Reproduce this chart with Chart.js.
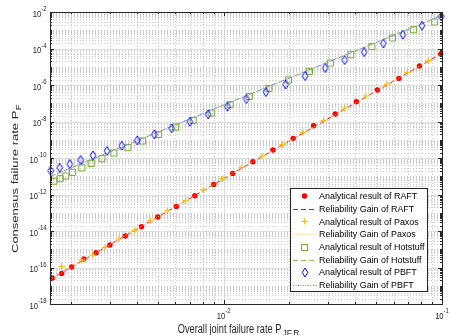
<!DOCTYPE html>
<html>
<head>
<meta charset="utf-8">
<script src="https://cdn.jsdelivr.net/npm/chart.js@4.4.0/dist/chart.umd.min.js"></script>
<style>
  html, body { margin: 0; padding: 0; background: #fff; }
  #wrap { width: 450px; height: 335px; position: relative; }
</style>
</head>
<body>
<div id="wrap"><canvas id="myChart"></canvas></div>
<script>
// values (log-log)
const raftX = [1.64e-3, 1.81e-3, 2.01e-3, 2.28e-3, 2.60e-3, 3.01e-3, 3.54e-3, 4.20e-3, 4.99e-3, 6.06e-3, 7.37e-3, 9.00e-3,
  1.10e-2, 1.36e-2, 1.68e-2, 2.08e-2, 2.58e-2, 3.24e-2, 4.05e-2, 5.06e-2, 6.34e-2, 7.88e-2, 9.86e-2];
const raftY = [2.66e-17, 4.75e-17, 1.06e-16, 2.92e-16, 6.47e-16, 1.71e-15, 5.32e-15, 1.72e-14, 5.85e-14, 2.23e-13, 8.59e-13, 3.57e-12,
  1.43e-11, 6.27e-11, 2.74e-10, 1.19e-9, 5.89e-9, 2.58e-8, 1.22e-7, 5.32e-7, 2.30e-6, 1.10e-5, 5.00e-5];

const paxosX = [1.81e-3, 2.24e-3, 2.51e-3, 2.86e-3, 3.31e-3, 3.91e-3, 4.62e-3, 5.51e-3, 6.68e-3, 8.05e-3, 9.89e-3,
  1.21e-2, 1.50e-2, 1.86e-2, 2.31e-2, 2.87e-2, 3.58e-2, 4.48e-2, 5.59e-2, 6.94e-2, 8.66e-2];
const paxosY = [1.15e-16, 2.51e-16, 4.84e-16, 1.26e-15, 3.65e-15, 1.08e-14, 3.57e-14, 1.29e-13, 4.57e-13, 1.77e-12, 7.35e-12,
  3.05e-11, 1.29e-10, 5.36e-10, 2.53e-9, 1.15e-8, 5.50e-8, 2.49e-7, 1.13e-6, 4.90e-6, 2.15e-5];

const hotstuffX = [1.67e-3, 1.78e-3, 1.89e-3, 2.03e-3, 2.24e-3, 2.47e-3, 2.77e-3, 3.14e-3, 3.64e-3, 4.25e-3, 5.03e-3, 6.02e-3,
  7.25e-3, 8.76e-3, 1.07e-2, 1.31e-2, 1.61e-2, 1.98e-2, 2.47e-2, 3.08e-2, 3.82e-2, 4.77e-2, 5.93e-2, 7.39e-2, 9.26e-2];
const hotstuffY = [5.36e-12, 7.35e-12, 1.03e-11, 1.63e-11, 2.87e-11, 5.06e-11, 9.16e-11, 1.88e-10, 3.67e-10, 8.55e-10, 1.96e-9, 4.88e-9,
  1.15e-8, 2.92e-8, 8.33e-8, 2.37e-7, 6.52e-7, 1.88e-6, 5.56e-6, 1.60e-5, 4.57e-5, 1.30e-4, 3.76e-4, 1.07e-3, 2.83e-3];

const pbftX = [1.61e-3, 1.77e-3, 1.97e-3, 2.21e-3, 2.52e-3, 2.92e-3, 3.41e-3, 4.02e-3, 4.81e-3, 5.77e-3, 6.99e-3, 8.49e-3,
  1.04e-2, 1.27e-2, 1.56e-2, 1.92e-2, 2.36e-2, 2.92e-2, 3.58e-2, 4.40e-2, 5.39e-2, 6.61e-2, 8.10e-2, 9.93e-2];
const pbftY = [2.01e-11, 2.94e-11, 4.69e-11, 7.77e-11, 1.39e-10, 2.42e-10, 4.72e-10, 9.20e-10, 1.96e-9, 4.30e-9, 9.75e-9, 2.45e-8,
  6.47e-8, 1.71e-7, 4.13e-7, 1.08e-6, 3.11e-6, 8.55e-6, 2.34e-5, 6.43e-5, 1.90e-4, 5.70e-4, 1.78e-3, 5.74e-3];

// reliability gain curves (straight in log-log)
const gainX = [1.6e-3, 1e-2, 1e-1];
const raftGainY = [2.23e-17, 7.35e-12, 5.5e-5];
const paxosGainY = [2.23e-17, 7.35e-12, 5.5e-5];
const hotstuffGainY = [9.57e-12, 8.02e-8, 6.52e-3];
const pbftGainY = [9.57e-12, 8.02e-8, 6.52e-3];

const xMin = 1.6e-3, xMax = 1e-1, yMin = 1e-18, yMax = 1e-2;
const xTickExps = [-2, -1];
const yTickExps = [-2, -4, -6, -8, -10, -12, -14, -16, -18];

const legendLabels = [
  "Analytical result of RAFT", "Reliability Gain of RAFT",
  "Analytical result of Paxos", "Reliability Gain of Paxos",
  "Analytical result of Hotstuff", "Reliability Gain of Hotstuff",
  "Analytical result of PBFT", "Reliability Gain of PBFT",
];

const RED = "#ff0000", YEL = "#f2bd1a", GRN = "#77ac30", BLU = "#0000ff";
const FONT = '"Liberation Sans", Arial, Helvetica, sans-serif';

// tall thin diamond like the original 'd' marker
function diamondMarker(color) {
  const c = document.createElement("canvas");
  c.width = 8; c.height = 11;
  const g = c.getContext("2d");
  g.strokeStyle = color; g.lineWidth = 1;
  g.beginPath();
  g.moveTo(4, 1); g.lineTo(6.8, 5.5); g.lineTo(4, 10); g.lineTo(1.2, 5.5); g.closePath();
  g.stroke();
  return c;
}
const diaImg = diamondMarker(BLU);

const pts = (xs, ys) => xs.map((v, i) => ({ x: v, y: ys[i] }));

function markerSet(label, xs, ys, style) {
  return Object.assign({ label, data: pts(xs, ys), showLine: false, clip: false }, style);
}
function lineSet(label, ys, color, dash) {
  return { label, data: pts(gainX, ys), showLine: true, borderColor: color, borderWidth: 1,
    borderDash: dash, pointRadius: 0, fill: false, clip: false };
}

const datasets = [
  markerSet(legendLabels[0], raftX, raftY, { pointStyle: "circle", pointRadius: 2.7, backgroundColor: RED, borderColor: RED, pointBorderWidth: 0 }),
  lineSet(legendLabels[1], raftGainY, RED, [5, 3]),
  markerSet(legendLabels[2], paxosX, paxosY, { pointStyle: "cross", pointRadius: 3.2, borderColor: YEL, pointBorderWidth: 1.2 }),
  lineSet(legendLabels[3], paxosGainY, "#f5cf60", [1, 1.5]),
  markerSet(legendLabels[4], hotstuffX, hotstuffY, { pointStyle: "rect", pointRadius: 4.3, backgroundColor: "rgba(0,0,0,0)", borderColor: GRN, pointBorderWidth: 1 }),
  lineSet(legendLabels[5], hotstuffGainY, "#8fbf55", [5, 3]),
  markerSet(legendLabels[6], pbftX, pbftY, { pointStyle: diaImg, pointRadius: 5 }),
  lineSet(legendLabels[7], pbftGainY, "#6f7cf0", [1, 1.5]),
];
// later series on top, like the original
datasets.forEach((d, i) => { d.order = -i; });

function drawText(ctx, s, x, y, size, sx, align, base) {
  ctx.save();
  ctx.translate(x, y);
  ctx.scale(sx, 1);
  ctx.font = size + "px " + FONT;
  ctx.textAlign = align || "left";
  ctx.textBaseline = base || "alphabetic";
  ctx.fillText(s, 0, 0);
  ctx.restore();
}
function textW(ctx, s, size, sx) {
  ctx.font = size + "px " + FONT;
  return ctx.measureText(s).width * sx;
}

const axesPlugin = {
  id: "matlabAxes",
  beforeDatasetsDraw(chart) {
    const { ctx, chartArea: a, scales: { x, y } } = chart;
    ctx.save();
    ctx.lineWidth = 1;
    // vertical grid
    for (let e = -3; e <= -1; e++) {
      for (let m = 1; m <= 9; m++) {
        const v = m * Math.pow(10, e);
        if (v < xMin * 0.999 || v > xMax * 1.001) continue;
        const px = Math.round(x.getPixelForValue(v)) + 0.5;
        if (m === 1) { ctx.strokeStyle = "#dcdcdc"; ctx.setLineDash([]); }
        else { ctx.strokeStyle = "#cbcbcb"; ctx.setLineDash([1, 2]); }
        ctx.beginPath(); ctx.moveTo(px, a.top); ctx.lineTo(px, a.bottom); ctx.stroke();
      }
    }
    // horizontal grid
    for (let e = -18; e <= -2; e++) {
      for (let m = 1; m <= 9; m++) {
        const v = m * Math.pow(10, e);
        if (v > yMax * 1.001) continue;
        const py = Math.round(y.getPixelForValue(v)) + 0.5;
        if (m === 1 && e % 2 === 0) { ctx.strokeStyle = "#dcdcdc"; ctx.setLineDash([]); }
        else { ctx.strokeStyle = "#cbcbcb"; ctx.setLineDash([1, 2]); }
        ctx.beginPath(); ctx.moveTo(a.left, py); ctx.lineTo(a.right, py); ctx.stroke();
      }
    }
    ctx.restore();
  },
  afterDatasetsDraw(chart) {
    const { ctx, chartArea: a, scales: { x, y } } = chart;
    ctx.save();
    ctx.strokeStyle = "#262626";
    ctx.fillStyle = "#262626";
    ctx.lineWidth = 1;
    ctx.setLineDash([]);
    // inner ticks
    ctx.beginPath();
    for (let e = -3; e <= -1; e++) {
      for (let m = 1; m <= 9; m++) {
        const v = m * Math.pow(10, e);
        if (v < xMin * 0.999 || v > xMax * 1.001) continue;
        const px = Math.round(x.getPixelForValue(v)) + 0.5;
        const len = m === 1 ? 4 : 2;
        ctx.moveTo(px, a.bottom); ctx.lineTo(px, a.bottom - len);
        ctx.moveTo(px, a.top); ctx.lineTo(px, a.top + len);
      }
    }
    for (let e = -18; e <= -2; e++) {
      for (let m = 1; m <= 9; m++) {
        const v = m * Math.pow(10, e);
        if (v > yMax * 1.001) continue;
        const py = Math.round(y.getPixelForValue(v)) + 0.5;
        const len = (m === 1 && e % 2 === 0) ? 4 : 2;
        ctx.moveTo(a.left, py); ctx.lineTo(a.left + len, py);
        ctx.moveTo(a.right, py); ctx.lineTo(a.right - len, py);
      }
    }
    ctx.stroke();
    // box
    ctx.strokeRect(Math.round(a.left) + 0.5, Math.round(a.top) + 0.5,
      Math.round(a.right - a.left), Math.round(a.bottom - a.top));

    // tick labels
    ctx.fillStyle = "#262626";
    const bs = 9.5, es = 7, sx = 0.8;
    yTickExps.forEach((e) => {
      const py = y.getPixelForValue(Math.pow(10, e));
      const exp = "-" + Math.abs(e);
      const we = textW(ctx, exp, es, 0.85);
      const wb = textW(ctx, "10", bs, sx);
      const right = a.left - 3.5;
      drawText(ctx, "10", right - we - wb, py + 2, bs, sx, "left", "middle");
      drawText(ctx, exp, right - we, py - 2.5, es, 0.85, "left", "middle");
    });
    xTickExps.forEach((e) => {
      const px = x.getPixelForValue(Math.pow(10, e));
      const exp = "-" + Math.abs(e);
      const we = textW(ctx, exp, es, 0.85);
      const wb = textW(ctx, "10", bs, sx);
      const left = px - (we + wb) / 2;
      drawText(ctx, "10", left, a.bottom + 12, bs, sx, "left", "middle");
      drawText(ctx, exp, left + wb, a.bottom + 7, es, 0.85, "left", "middle");
    });

    // axis titles
    drawText(ctx, "Overall joint failure rate P", 177.7, 332.5, 12, 0.77, "left", "alphabetic");
    const wx = textW(ctx, "Overall joint failure rate P", 12, 0.77);
    drawText(ctx, "JF,R", 177.7 + wx + 1, 336, 9.5, 0.9, "left", "alphabetic");

    ctx.save();
    ctx.translate(18, 253);
    ctx.scale(0.72, 1);
    ctx.rotate(-Math.PI / 2);
    ctx.font = "13px " + FONT;
    ctx.textAlign = "left";
    ctx.textBaseline = "alphabetic";
    const ylab = "Consensus failure rate P";
    ctx.fillText(ylab, 0, 0);
    const wy = ctx.measureText(ylab).width;
    ctx.font = "9.5px " + FONT;
    ctx.fillText("F", wy + 0.5, 4.5);
    ctx.restore();

    // legend
    const lx0 = 290.5, ly0 = 188.5, lw = 137, lh = 103;
    ctx.fillStyle = "#fff";
    ctx.fillRect(lx0, ly0, lw, lh);
    ctx.strokeStyle = "#262626";
    ctx.lineWidth = 1;
    ctx.strokeRect(lx0, ly0, lw, lh);
    datasets.forEach((d, i) => {
      const cy = 196 + i * 12.7;
      const mx = 304.5;
      ctx.save();
      if (d.showLine) {
        ctx.strokeStyle = d.borderColor;
        ctx.lineWidth = 1;
        ctx.setLineDash(d.borderDash);
        ctx.beginPath(); ctx.moveTo(293, Math.round(cy) + 0.5); ctx.lineTo(317, Math.round(cy) + 0.5); ctx.stroke();
      } else if (d.pointStyle === "circle") {
        ctx.fillStyle = RED;
        ctx.beginPath(); ctx.arc(mx, cy, 2.7, 0, Math.PI * 2); ctx.fill();
      } else if (d.pointStyle === "cross") {
        ctx.strokeStyle = YEL; ctx.lineWidth = 1.2;
        ctx.beginPath();
        ctx.moveTo(mx - 3.2, cy); ctx.lineTo(mx + 3.2, cy);
        ctx.moveTo(mx, cy - 3.2); ctx.lineTo(mx, cy + 3.2);
        ctx.stroke();
      } else if (d.pointStyle === "rect") {
        ctx.strokeStyle = GRN; ctx.lineWidth = 1;
        ctx.strokeRect(mx - 3, Math.round(cy) - 2.5, 6, 6);
      } else {
        const img = d.pointStyle;
        ctx.drawImage(img, Math.round(mx - img.width / 2), Math.round(cy - img.height / 2));
      }
      ctx.restore();
      ctx.fillStyle = "#000";
      drawText(ctx, d.label, 319, cy + 0.5, 9.5, 0.94, "left", "middle");
    });
    ctx.restore();
  },
};

const ctx = document.getElementById("myChart").getContext("2d");
const myChart = new Chart(ctx, {
  type: "scatter",
  data: { datasets },
  options: {
    responsive: true,
    maintainAspectRatio: false,
    animation: false,
    layout: { padding: { left: 50, right: 8, top: 12, bottom: 31 } },
    plugins: { legend: { display: false }, tooltip: { enabled: false } },
    scales: {
      x: { type: "logarithmic", min: xMin, max: xMax, display: false },
      y: { type: "logarithmic", min: yMin, max: yMax, display: false },
    },
  },
  plugins: [axesPlugin],
});
</script>
</body>
</html>
